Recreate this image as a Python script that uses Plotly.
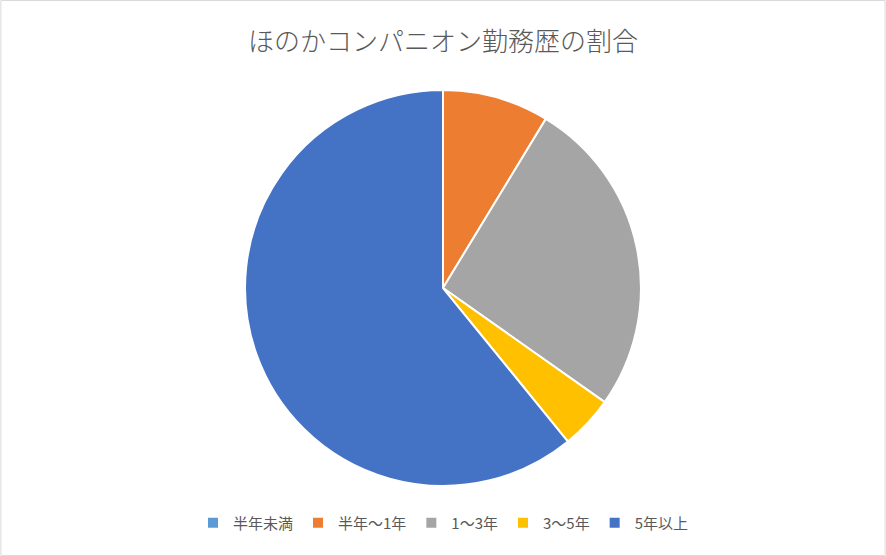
import plotly.graph_objects as go

labels = ["半年未満", "半年～1年", "1～3年", "3～5年", "5年以上"]
counts = [0, 2, 6, 1, 14]
colors = ["#5b9bd5", "#ed7d31", "#a5a5a5", "#ffc000", "#4472c4"]

fig = go.Figure(
    go.Pie(
        labels=labels,
        values=counts,
        sort=False,
        direction="clockwise",
        rotation=0,
        textinfo="none",
        hoverinfo="label+value+percent",
        marker=dict(colors=colors, line=dict(color="white", width=2)),
        domain=dict(x=[0.1, 0.9], y=[0.126, 0.838]),
    )
)

fig.update_layout(
    width=886,
    height=556,
    margin=dict(l=0, r=0, t=0, b=0),
    paper_bgcolor="white",
    font=dict(family="Noto Sans CJK JP", color="#595959"),
    title=dict(
        text="ほのかコンパニオン勤務歴の割合",
        x=0.5,
        xanchor="center",
        y=1 - 42 / 556,
        yanchor="middle",
        font=dict(size=26, color="#595959", weight=300),
    ),
    legend=dict(
        orientation="h",
        x=0.5,
        xanchor="center",
        y=1 - 523 / 556,
        yanchor="middle",
        font=dict(size=15, color="#595959"),
        itemwidth=30,
    ),
    shapes=[
        dict(
            type="rect",
            xref="paper",
            yref="paper",
            x0=0.001,
            x1=0.999,
            y0=0.001,
            y1=0.999,
            line=dict(color="#d9d9d9", width=1),
        )
    ],
)

fig.write_html(
    "out.html",
    config={"displayModeBar": False},
    post_script="document.body.style.margin='0px';",
)
